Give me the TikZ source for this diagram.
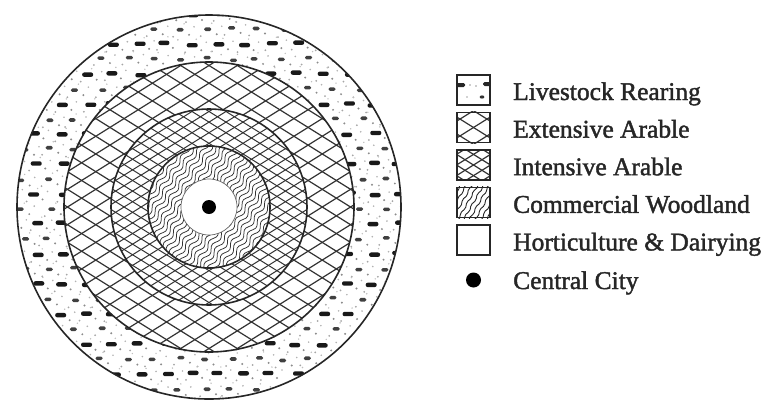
\documentclass[tikz,border=0pt]{standalone}
\usepackage{fontspec}
\setmainfont{Liberation Serif}
\newfontfamily\legendfont{Liberation Serif}[FakeBold=1.6]
\begin{document}
\begin{tikzpicture}[x=1pt,y=-1pt,
  ring/.style={line width=1.6pt, draw=black!85},
  hatch/.style={line width=1.2pt, draw=black!80},
  hatchfine/.style={line width=1.0pt, draw=black!80},
  wave/.style={line width=0.75pt, draw=black!80},
  legbox/.style={line width=1.2pt, draw=black!85, minimum width=33pt, minimum height=30pt, inner sep=0pt},
  legtext/.style={anchor=base west, inner sep=0pt, font=\legendfont\fontsize{25.5}{30}\selectfont, text=black!85}]
\useasboundingbox (0,0) rectangle (763,400);
\coordinate (C) at (209,207);

% ---- Livestock rearing stipple (outer ring)
\begin{scope}
\clip (C) circle[radius=192pt];
\pgfmathsetseed{11}
\foreach \j in {0,...,27}{
  \foreach \i in {0,...,16}{
    \pgfmathsetmacro{\xx}{10+26*\i+13*mod(\j,2)+3*rand}
    \pgfmathsetmacro{\yy}{14+15*\j+1.5*rand}
    \ifodd\j
      \fill[black!75, rounded corners=1.5pt] (\xx-3.5,\yy-1.8) rectangle (\xx+3.5,\yy+1.8);
    \else
      \fill[black!90, rounded corners=2pt] (\xx-5.5,\yy-2.2) rectangle (\xx+5.5,\yy+2.2);
    \fi
    \fill[black!45] (\xx+9,\yy+5) circle[radius=1.1pt];
    \fill[black!35] (\xx-7,\yy+7) circle[radius=1pt];
    \fill[black!30] (\xx+14,\yy-3) circle[radius=0.9pt];
    \fill[black!25] (\xx+4,\yy-6) circle[radius=0.8pt];
  }
}
\end{scope}

% ---- Extensive arable
\fill[white] (C) circle[radius=145pt];
\begin{scope}
\clip (C) circle[radius=145pt];
\foreach \a in {32,-32}{
  \begin{scope}[shift={(C)}, rotate=\a]
    \foreach \k in {-11,...,11} \draw[hatch] (-170,\k*15) -- (170,\k*15);
  \end{scope}
}
\end{scope}

% ---- Intensive arable
\fill[white] (C) circle[radius=98pt];
\begin{scope}
\clip (C) circle[radius=98pt];
\foreach \a in {32,-32}{
  \begin{scope}[shift={(C)}, rotate=\a]
    \foreach \k in {-12,...,12} \draw[hatchfine] (-120,\k*9) -- (120,\k*9);
  \end{scope}
}
\end{scope}

% ---- Commercial woodland
\fill[white] (C) circle[radius=61pt];
\begin{scope}
\clip (C) circle[radius=61pt];
\begin{scope}[shift={(C)}, rotate=55]
  \foreach \c in {-64,-59.5,...,64}
    \draw[wave] plot[domain=-66:66, samples=50, smooth] (\x, {\c + 2*sin(20*\x + 5*\c)});
\end{scope}
\end{scope}

% ---- Horticulture & dairying and central city
\fill[white] (C) circle[radius=28pt];
\draw[line width=0.7pt, black!60] (C) circle[radius=28pt];
\fill[black] (C) circle[radius=7pt];

% ---- Ring outlines
\draw[ring] (C) circle[radius=192pt];
\draw[ring] (C) circle[radius=145pt];
\draw[ring] (C) circle[radius=98pt];
\draw[ring] (C) circle[radius=61pt];

% ---- Legend
\node[legbox] (b1) at (473.5,90) {};
\node[legbox] (b2) at (473.5,127.5) {};
\node[legbox] (b3) at (473.5,165) {};
\node[legbox] (b4) at (473.5,202.5) {};
\node[legbox] (b5) at (473.5,240) {};
\fill[black] (473.5,280) circle[radius=7.5pt];

% box 1 content
\begin{scope}
\clip (b1.north west) rectangle (b1.south east);
\fill[black!85, rounded corners=1.5pt] (456,83) rectangle (465,87);
\fill[black!85, rounded corners=1.5pt] (483,82) rectangle (492,86);
\fill[black!80] (482,97) ellipse[x radius=2.4pt, y radius=1.6pt];
\fill[black!40] (470,85) circle[radius=0.9pt];
\fill[black!40] (476,86) circle[radius=0.8pt];
\fill[black!35] (467,97) circle[radius=0.8pt];
\end{scope}
% box 2 content
\begin{scope}
\clip (b2.north west) rectangle (b2.south east);
\foreach \a in {32,-32}{
  \begin{scope}[shift={(b2.center)}, rotate=\a]
    \foreach \k in {-2,...,2} \draw[hatch] (-40,\k*14.3) -- (40,\k*14.3);
  \end{scope}
}
\end{scope}
% box 3 content
\begin{scope}
\clip (b3.north west) rectangle (b3.south east);
\foreach \a in {32,-32}{
  \begin{scope}[shift={(b3.center)}, rotate=\a]
    \foreach \k in {-3,...,3} \draw[hatch] (-40,\k*9) -- (40,\k*9);
  \end{scope}
}
\end{scope}
% box 4 content
\begin{scope}
\clip (b4.north west) rectangle (b4.south east);
\begin{scope}[shift={(b4.center)}, rotate=60]
  \foreach \c in {-25,-20,...,25}
    \draw[line width=0.9pt, black!85] plot[domain=-30:30, samples=20, smooth] (\x, {\c + 0.8*sin(30*\x)});
\end{scope}
\end{scope}
\node[legbox] at (b1.center) {};
\node[legbox] at (b2.center) {};
\node[legbox] at (b3.center) {};
\node[legbox] at (b4.center) {};

\node[legtext] (t1) at (513,100) {Livestock Rearing};
\node[legtext] (t2) at (513,137.6) {Extensive Arable};
\node[legtext] (t3) at (513,175.2) {Intensive Arable};
\node[legtext] (t4) at (513,212.8) {Commercial Woodland};
\node[legtext] (t5) at (513,250.4) {Horticulture \& Dairying};
\node[legtext] (t6) at (513,289) {Central City};
\end{tikzpicture}
\end{document}
